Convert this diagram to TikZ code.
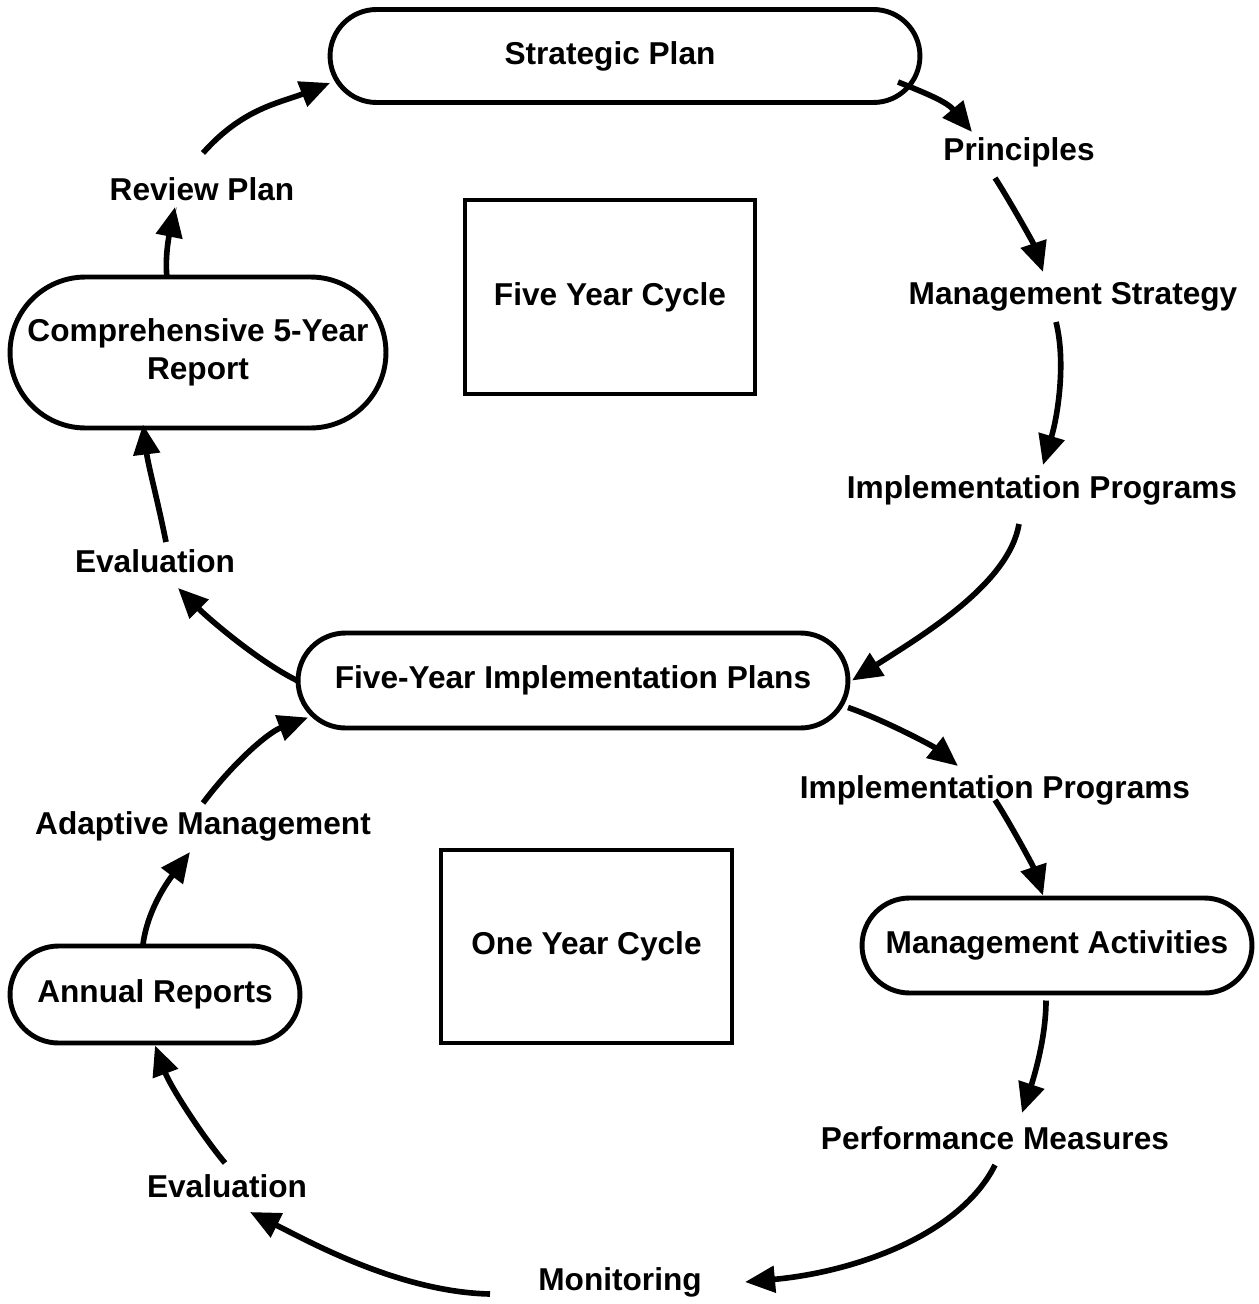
\documentclass[tikz,border=0pt]{standalone}
\usepackage{fontspec}
\setmainfont{Liberation Sans}
\usetikzlibrary{arrows.meta,shapes.misc}
\begin{document}
\begin{tikzpicture}[x=0.02cm, y=-0.02cm,
    font=\fontsize{18}{21.6}\selectfont\bfseries,
    pill/.style={rounded rectangle, draw, line width=2.8pt, inner sep=0pt, align=center},
    cyclebox/.style={rectangle, draw, line width=2.4pt, inner sep=0pt},
    lbl/.style={inner sep=1pt},
    flow/.style={line width=3.2pt, -{Triangle[length=0.6cm,width=0.52cm]}}]
  \useasboundingbox (0,0) rectangle (1258,1304);
  \node[pill, minimum width=11.8cm, minimum height=1.86cm] (plan) at (625,56) {Strategic Plan\hspace*{0.6cm}};
  \node[lbl] (princ) at (1019,152) {Principles};
  \node[lbl] (mstrat) at (1073,297) {Management Strategy};
  \node[lbl] (iprogA) at (1042,490) {Implementation Programs};
  \node[cyclebox, minimum width=5.8cm, minimum height=3.88cm] (fivecyc) at (610,297) {Five Year Cycle};
  \node[lbl] (review) at (202,189) {Review Plan};
  \node[pill, minimum width=7.52cm, minimum height=3.02cm] (comp) at (198,352.5) {Comprehensive 5-Year\\Report};
  \node[lbl] (evalA) at (155,561) {Evaluation};
  \node[pill, minimum width=11cm, minimum height=1.9cm] (fyip) at (573,680.5) {Five-Year Implementation Plans};
  \node[lbl] (iprogB) at (995,790) {Implementation Programs};
  \node[lbl] (adapt) at (203,826) {Adaptive Management};
  \node[cyclebox, minimum width=5.82cm, minimum height=3.86cm] (onecyc) at (586.5,946.5) {One Year Cycle};
  \node[pill, minimum width=5.8cm, minimum height=1.94cm] (annual) at (155,994.5) {Annual Reports};
  \node[pill, minimum width=7.8cm, minimum height=1.9cm] (mact) at (1057,945.5) {Management Activities};
  \node[lbl] (perf) at (995,1138) {Performance Measures};
  \node[lbl] (evalB) at (227,1186) {Evaluation};
  \node[lbl] (monit) at (620,1282) {Monitoring};

  \draw[flow] ([shift={(1,-36)}]review.center) .. controls +(40,-45) and +(-50,20) .. ([shift={(-295,27)}]plan.center);
  \draw[flow] ([shift={(273,26)}]plan.center) .. controls +(30,12) and +(-25,-30) .. ([shift={(-47,-20)}]princ.center);
  \draw[flow] ([shift={(-24,26)}]princ.center) .. controls +(10,15) and +(-10,-30) .. ([shift={(-30,-25)}]mstrat.center);
  \draw[flow] ([shift={(-17,25)}]mstrat.center) .. controls +(10,40) and +(15,-50) .. ([shift={(1,-25)}]iprogA.center);
  \draw[flow] ([shift={(-23,34)}]iprogA.center) .. controls +(-10,60) and +(70,-45) .. ([shift={(279,0)}]fyip.center);
  \draw[flow] ([shift={(275,27)}]fyip.center) .. controls +(35,12) and +(-25,-20) .. ([shift={(-37,-24)}]iprogB.center);
  \draw[flow] ([shift={(0,10)}]iprogB.center) .. controls +(12,18) and +(-10,-30) .. ([shift={(-14,-50)}]mact.center);
  \draw[flow] ([shift={(-11,55)}]mact.center) .. controls +(0,40) and +(10,-30) .. ([shift={(27,-25)}]perf.center);
  \draw[flow] ([shift={(0,27)}]perf.center) .. controls +(-35,70) and +(110,-10) .. ([shift={(125,0)}]monit.center);
  \draw[flow] ([shift={(-130,12)}]monit.center) .. controls +(-90,-2) and +(60,30) .. ([shift={(23,26)}]evalB.center);
  \draw[flow] ([shift={(-2,-23)}]evalB.center) .. controls +(-25,-30) and +(15,40) .. ([shift={(0,51)}]annual.center);
  \draw[flow] ([shift={(-12,-50)}]annual.center) .. controls +(5,-40) and +(-15,20) .. ([shift={(-13,26)}]adapt.center);
  \draw[flow] ([shift={(0,-23)}]adapt.center) .. controls +(30,-40) and +(-40,15) .. ([shift={(-265,37)}]fyip.center);
  \draw[flow] ([shift={(-276,0)}]fyip.center) .. controls +(-40,-20) and +(30,30) .. ([shift={(23,27)}]evalA.center);
  \draw[flow] ([shift={(11,-19)}]evalA.center) .. controls +(-8,-40) and +(5,40) .. ([shift={(-55,72)}]comp.center);
  \draw[flow] ([shift={(-31,-75)}]comp.center) .. controls +(-3,-25) and +(-3,15) .. ([shift={(-27,18)}]review.center);
\end{tikzpicture}
\end{document}
